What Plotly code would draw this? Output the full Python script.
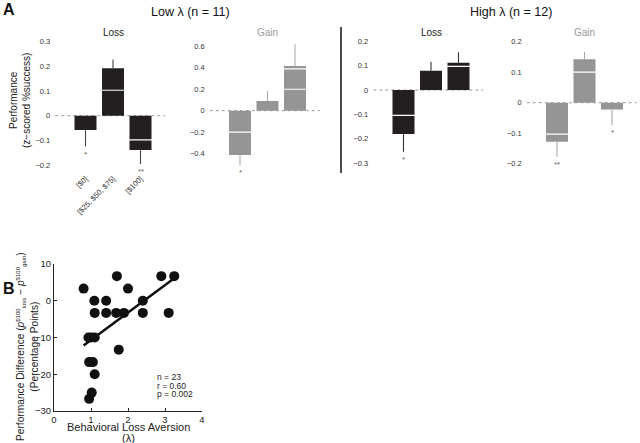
import plotly.graph_objects as go
import numpy as np

# ---------------- data ----------------
categories = ["[$0]", "[$25, $50, $75]", "[$100]"]

low_loss_bar = [-0.058, 0.192, -0.139]
low_loss_mid = [None, 0.103, -0.098]
low_loss_top = [None, None, None]
low_loss_err = [-0.125, 0.228, -0.196]
low_loss_sig = ["*", "", "**"]
low_loss_ticks = [-0.2, -0.1, 0, 0.1, 0.2, 0.3]

low_gain_bar = [-0.414, 0.09, 0.418]
low_gain_mid = [-0.20, None, 0.20]
low_gain_top = [None, None, 0.39]
low_gain_err = [-0.51, 0.184, 0.62]
low_gain_sig = ["*", "", ""]
low_gain_ticks = [-0.4, -0.2, 0, 0.2, 0.4, 0.6]

high_loss_bar = [-0.181, 0.079, 0.112]
high_loss_mid = [-0.104, None, 0.097]
high_loss_top = [None, None, None]
high_loss_err = [-0.254, 0.116, 0.155]
high_loss_sig = ["*", "", ""]
high_loss_ticks = [-0.3, -0.2, -0.1, 0, 0.1, 0.2]

high_gain_bar = [-0.128, 0.142, -0.022]
high_gain_mid = [-0.103, 0.10, None]
high_gain_top = [None, None, None]
high_gain_err = [-0.177, 0.167, -0.073]
high_gain_sig = ["**", "", "*"]
high_gain_ticks = [-0.2, -0.1, 0, 0.1, 0.2]

lam = [0.8, 1.7, 2.9, 3.25, 2.0, 1.09, 1.41, 2.4, 1.1, 1.41, 1.68, 1.89, 2.4, 3.1,
       0.93, 1.0, 1.1, 1.75, 0.95, 1.05, 1.1, 1.02, 0.95]
perf = [3.3, 6.7, 6.7, 6.7, 3.3, 0, 0, 0, -3.3, -3.3, -3.3, -3.3, -3.3, -3.3,
        -10, -10, -10, -13.3, -16.7, -16.7, -20, -25, -26.7]
stats_lines = ["n = 23", "r = 0.60", "p = 0.002"]

# ---------------- styling ----------------
FONT = "Liberation Sans, Arial, Helvetica, sans-serif"
LOSS_C = "#231f20"
GAIN_C = "#959595"
W, H = 640, 443


def px(x):
    return x / W


def py(y):
    return 1 - y / H


def note(x, y, text, size, color="#222222", xanchor="center", yanchor="middle", **kw):
    return dict(x=px(x), y=py(y), xref="paper", yref="paper", text=text, showarrow=False,
                xanchor=xanchor, yanchor=yanchor,
                font=dict(size=size, color=color, family=FONT), **kw)


fig = go.Figure()

panels = [
    dict(bar=low_loss_bar, mid=low_loss_mid, top=low_loss_top, err=low_loss_err,
         sig=low_loss_sig, ticks=low_loss_ticks, color=LOSS_C, ecolor="#444444",
         title="Loss", tcolor="#222222", xd=(55.25, 165.25), yr=(-0.228, 0.3146)),
    dict(bar=low_gain_bar, mid=low_gain_mid, top=low_gain_top, err=low_gain_err,
         sig=low_gain_sig, ticks=low_gain_ticks, color=GAIN_C, ecolor="#aaaaaa",
         title="Gain", tcolor="#999999", xd=(209.75, 319.75), yr=(-0.573, 0.679)),
    dict(bar=high_loss_bar, mid=high_loss_mid, top=high_loss_top, err=high_loss_err,
         sig=high_loss_sig, ticks=high_loss_ticks, color=LOSS_C, ecolor="#333333",
         title="Loss", tcolor="#222222", xd=(373.25, 483.25), yr=(-0.3374, 0.214)),
    dict(bar=high_gain_bar, mid=high_gain_mid, top=high_gain_top, err=high_gain_err,
         sig=high_gain_sig, ticks=high_gain_ticks, color=GAIN_C, ecolor="#aaaaaa",
         title="Gain", tcolor="#999999", xd=(526.75, 636.75), yr=(-0.227, 0.212)),
]

xpos = [1, 2, 3]
annotations = []
shapes = []
layout = {}

for i, p in enumerate(panels, start=1):
    xa = "x" if i == 1 else f"x{i}"
    ya = "y" if i == 1 else f"y{i}"
    up = [max(e - b, 0) if b > 0 else 0 for b, e in zip(p["bar"], p["err"])]
    down = [max(b - e, 0) if b < 0 else 0 for b, e in zip(p["bar"], p["err"])]
    fig.add_trace(go.Bar(
        x=xpos, y=p["bar"], width=0.8, marker=dict(color=p["color"], line=dict(width=0)),
        error_y=dict(type="data", symmetric=False, array=up, arrayminus=down,
                     width=0, thickness=1.1, color=p["ecolor"]),
        xaxis=xa, yaxis=ya, hoverinfo="skip"))
    for key in ("mid", "top"):
        fig.add_trace(go.Scatter(
            x=xpos, y=p[key], mode="markers",
            marker=dict(symbol="line-ew", size=21, color="white",
                        line=dict(color="white", width=1.2)),
            xaxis=xa, yaxis=ya, hoverinfo="skip"))
    shapes.append(dict(type="line", xref=f"{xa} domain", yref=ya, x0=0, x1=1, y0=0, y1=0,
                       line=dict(color="#9a9a9a", width=1, dash="dot"), layer="below"))
    for xv, e, s in zip(xpos, p["err"], p["sig"]):
        if s:
            annotations.append(dict(x=xv, y=e, xref=xa, yref=ya, text=s, showarrow=False,
                                    xanchor="center", yanchor="top", yshift=-1,
                                    font=dict(size=8, color="#666666", family=FONT)))
    annotations.append(dict(x=2, y=py(32), xref=xa, yref="paper", text=p["title"],
                            showarrow=False, xanchor="center", yanchor="middle",
                            font=dict(size=10, color=p["tcolor"], family=FONT)))
    xkey = "xaxis" if i == 1 else f"xaxis{i}"
    ykey = "yaxis" if i == 1 else f"yaxis{i}"
    layout[xkey] = dict(domain=[px(p["xd"][0]), px(p["xd"][1])], range=[-0.1, 3.9],
                        showgrid=False, zeroline=False, showline=False, anchor=ya,
                        automargin=False,
                        tickvals=xpos, ticktext=categories, showticklabels=(i == 1),
                        tickangle=-45, ticks="",
                        tickfont=dict(size=7.5, color="#333333", family=FONT))
    layout[ykey] = dict(domain=[py(172), py(38)], range=list(p["yr"]), anchor=xa,
                        showgrid=False, zeroline=False, showline=False, ticks="",
                        automargin=False,
                        tickvals=p["ticks"],
                        ticktext=[("0" if t == 0 else f"{t:g}".replace("-", "\u2212")) for t in p["ticks"]],
                        ticklabelstandoff=4,
                        tickfont=dict(size=7.5, color="#333333", family=FONT))

# ---------------- panel B ----------------
fig.add_trace(go.Scatter(x=lam, y=perf, mode="markers",
                         marker=dict(size=10, color="#111111"),
                         xaxis="x5", yaxis="y5", hoverinfo="skip"))
slope, intercept = np.polyfit(lam, perf, 1)
xfit = np.array([min(lam), max(lam)])
fig.add_trace(go.Scatter(x=xfit, y=slope * xfit + intercept, mode="lines",
                         line=dict(color="#111111", width=2.5),
                         xaxis="x5", yaxis="y5", hoverinfo="skip"))

layout["xaxis5"] = dict(domain=[px(54), px(202)], range=[0, 4], anchor="y5",
                        tickvals=[0, 1, 2, 3, 4], showgrid=False, zeroline=False,
                        automargin=False,
                        showline=True, linecolor="#222222", linewidth=1,
                        ticks="inside", ticklen=3, tickcolor="#222222",
                        tickfont=dict(size=9.5, color="#222222", family=FONT))
layout["yaxis5"] = dict(domain=[py(411), py(264)], range=[-30, 10], anchor="x5",
                        tickvals=[-30, -20, -10, 0, 10],
                        ticktext=["\u221230", "\u221220", "\u221210", "0", "10"],
                        showgrid=False, zeroline=False, automargin=False,
                        showline=True, linecolor="#222222", linewidth=1,
                        ticks="inside", ticklen=3, tickcolor="#222222",
                        tickfont=dict(size=9.5, color="#222222", family=FONT))

for j, t in enumerate(stats_lines):
    annotations.append(note(155, 377 + 8.7 * j, t, 8.5, xanchor="left"))

SUP = '<sup><span style="font-size:6px">{}</span></sup>'
SUB = '<sub><span style="font-size:6px">{}</span></sub>'
ytitle_b = ("Performance Difference (<i>p</i>" + SUP.format("$100") + SUB.format("loss")
            + " \u2212 <i>p</i>" + SUP.format("$100") + SUB.format("gain") + ")"
            + "<br>(Percentage Points)")

annotations += [
    note(9, 9.5, "<b>A</b>", 16, color="#111111"),
    note(9, 288, "<b>B</b>", 16, color="#111111"),
    note(190, 12, "Low \u03bb (n = 11)", 12.5, color="#111111"),
    note(511, 12, "High \u03bb (n = 12)", 12.5, color="#111111"),
    note(20, 101, "Performance<br>(z\u2212scored %success)", 10, textangle=-90),
    note(27, 347, ytitle_b, 10.2, textangle=-90),
    note(128, 427, "Behavioral Loss Aversion", 11),
    note(128, 437.5, "(\u03bb)", 11),
]

shapes.append(dict(type="line", xref="paper", yref="paper", x0=px(341), x1=px(341),
                   y0=py(27), y1=py(173), line=dict(color="#111111", width=1.5)))

fig.update_layout(template="none", width=W, height=H, autosize=False,
                  margin=dict(l=0, r=0, t=0, b=0, pad=0),
                  paper_bgcolor="white", plot_bgcolor="rgba(0,0,0,0)",
                  showlegend=False, barmode="overlay", annotations=annotations,
                  shapes=shapes, font=dict(family=FONT), hovermode=False, **layout)

# remove the browser's default 8px page margin so the figure fills the window exactly
fig.write_html("out.html", config={"displayModeBar": False},
               post_script="document.body.style.margin='0px';")
